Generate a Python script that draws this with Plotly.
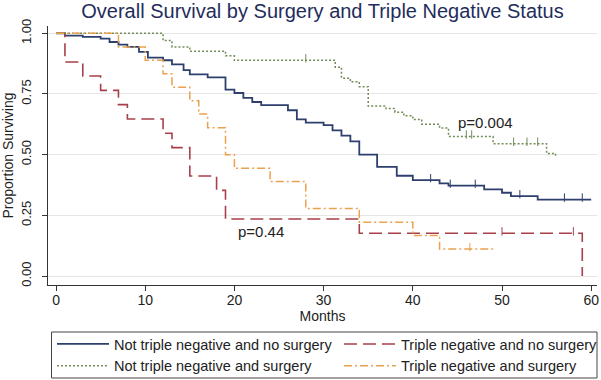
import plotly.graph_objects as go
import numpy as np

# ---- data ----
blue_t = [0, 1, 3, 5, 6, 7, 8, 9.3, 10.3, 12, 13, 14.3, 15, 17, 19, 20, 21, 22, 23, 26, 27, 28, 30, 31, 32, 33, 34, 36, 38.2, 40, 43, 44, 48, 50, 51, 54, 60]
blue_s = [1.0, 0.99, 0.985, 0.978, 0.964, 0.953, 0.944, 0.923, 0.90, 0.889, 0.872, 0.848, 0.831, 0.818, 0.768, 0.754, 0.734, 0.717, 0.704, 0.683, 0.645, 0.632, 0.622, 0.60, 0.578, 0.555, 0.50, 0.45, 0.413, 0.395, 0.382, 0.372, 0.357, 0.343, 0.329, 0.315, 0.315]
blue_cens = [42, 44.2, 47, 52, 57, 59]

green_t = [0, 12, 13, 15, 19, 20, 31.3, 32, 33, 34, 35, 37, 38, 39, 40, 41, 43, 44, 49, 55, 56]
green_s = [1.0, 0.97, 0.944, 0.926, 0.907, 0.889, 0.86, 0.815, 0.80, 0.78, 0.70, 0.69, 0.675, 0.66, 0.645, 0.625, 0.61, 0.575, 0.545, 0.505, 0.49]
green_cens = [28, 46, 46.6, 51.3, 52.8, 54]

red_t = [0, 1, 3, 5, 7, 8, 12, 13, 15, 18, 19, 34, 59]
red_s = [1.0, 0.882, 0.824, 0.765, 0.706, 0.647, 0.588, 0.529, 0.412, 0.353, 0.235, 0.176, 0.0]
red_cens = [50, 58]

orange_t = [0, 7, 10, 12, 13, 15, 16, 17, 19, 20, 24, 28, 34, 40, 43, 49]
orange_s = [1.0, 0.944, 0.889, 0.833, 0.778, 0.722, 0.667, 0.611, 0.5, 0.444, 0.389, 0.278, 0.222, 0.167, 0.111, 0.111]
orange_cens = [46.4]

labels = ["Not triple negative and no surgery", "Triple negative and no surgery",
          "Not triple negative and surgery", "Triple negative and surgery"]

x_ticks = [0, 10, 20, 30, 40, 50, 60]
y_ticks = [0.0, 0.25, 0.5, 0.75, 1.0]
y_ticklabels = ["0.00", "0.25", "0.50", "0.75", "1.00"]

pvals = [("p=0.004", 48.1, 0.634), ("p=0.44", 23.0, 0.182)]

# ---- styles ----
FONT = "Liberation Sans, Arial, sans-serif"
# (times, surv, censored, label, colour, dash, width, legend)
series = [
    (blue_t, blue_s, blue_cens, labels[0], "#2c3f6d", "solid", 1.8, "legend"),
    (red_t, red_s, red_cens, labels[1], "#a8404c", "13px,6px", 1.6, "legend2"),
    (green_t, green_s, green_cens, labels[2], "#728c5a", "2px,2px", 1.5, "legend"),
    (orange_t, orange_s, orange_cens, labels[3], "#eaa24e", "8px,3px,2px,3px", 1.5, "legend2"),
]


def step_val(ts, ss, t):
    idx = np.searchsorted(np.array(ts), t, side="right") - 1
    return ss[max(idx, 0)]


fig = go.Figure()
for ts, ss, cens, name, col, dash, w, lg in series:
    fig.add_trace(go.Scatter(x=ts, y=ss, mode="lines", line=dict(shape="hv", color=col, dash=dash, width=w),
                             name=name, hoverinfo="skip", legend=lg))
for ts, ss, cens, name, col, dash, w, lg in series:
    fig.add_trace(go.Scatter(x=cens, y=[step_val(ts, ss, c) + 0.008 for c in cens], mode="markers",
                             marker=dict(symbol="line-ns", size=6, line=dict(color=col, width=1)),
                             showlegend=False, hoverinfo="skip"))

for txt, x, y in pvals:
    fig.add_annotation(x=x, y=y, text=txt, showarrow=False, font=dict(family=FONT, size=15, color="#222"))

PLOT_L, PLOT_R, PLOT_T, PLOT_B = 48, 597, 26, 285
PW, PH = PLOT_R - PLOT_L, PLOT_B - PLOT_T


def px_x(p):
    return (p - PLOT_L) / PW


def px_y(p):
    return (PLOT_B - p) / PH


# single frame around the two legend columns
fig.add_shape(type="rect", xref="paper", yref="paper", x0=px_x(51.5), x1=px_x(597), y0=px_y(378), y1=px_y(332),
              line=dict(color="#444", width=1), fillcolor="rgba(0,0,0,0)")

leg_common = dict(orientation="v", yanchor="top", xanchor="left", bgcolor="rgba(0,0,0,0)", borderwidth=0,
                  font=dict(family=FONT, size=14.5, color="#222"), itemwidth=52, tracegroupgap=0)

fig.update_layout(
    template="none",
    width=601, height=380,
    margin=dict(l=PLOT_L, r=601 - PLOT_R, t=PLOT_T, b=380 - PLOT_B, autoexpand=False),
    paper_bgcolor="white", plot_bgcolor="white",
    font=dict(family=FONT, size=13, color="#222"),
    title=dict(text="Overall Survival by Surgery and Triple Negative Status", x=0.5, xref="paper",
               y=1 - 11 / 380, yref="container", yanchor="middle", xanchor="center",
               font=dict(family=FONT, size=20, color="#1f2d5c")),
    showlegend=True,
    legend=dict(x=px_x(52), y=px_y(328), **leg_common),
    legend2=dict(x=px_x(339), y=px_y(328), **leg_common),
)
fig.update_xaxes(range=[-0.9, 60.65], tickvals=x_ticks, showgrid=False, zeroline=False, automargin=False,
                 showline=True, linecolor="#333", linewidth=1, ticks="outside", ticklen=5, tickcolor="#333",
                 ticklabelstandoff=-3,
                 title=dict(text="Months", standoff=2, font=dict(size=14)), tickfont=dict(size=14))
fig.update_yaxes(range=[-0.037, 1.03], tickvals=y_ticks, ticktext=y_ticklabels, tickangle=-90, automargin=False,
                 showgrid=True, gridcolor="#e6e6e6", gridwidth=1, zeroline=False, ticklabelstandoff=6,
                 showline=True, linecolor="#333", linewidth=1, ticks="outside", ticklen=5, tickcolor="#333",
                 title=dict(text="Proportion Surviving", standoff=8, font=dict(size=14)), tickfont=dict(size=13))

fig.write_html("out.html", config={"displayModeBar": False}, post_script="document.body.style.margin='0';")
